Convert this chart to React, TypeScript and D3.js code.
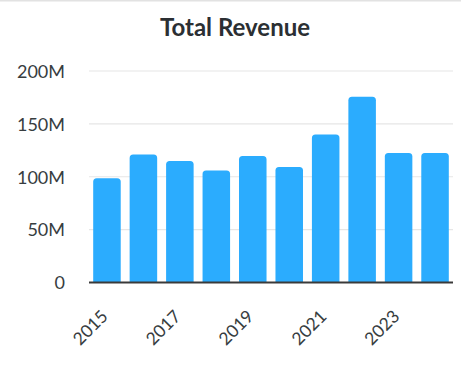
import React from "react";
import * as d3 from "d3";

const width = 461;
const height = 373;

const years = ["2015", "2016", "2017", "2018", "2019", "2020", "2021", "2022", "2023", "2024"];
const revenue = [98.5, 121, 115, 106, 119.6, 109.2, 140, 175.7, 122.5, 122.5];
const yTicks = [0, 50, 100, 150, 200];
const xTickLabels = ["2015", "2017", "2019", "2021", "2023"];

const left = 89;
const right = 453;
const top = 71;
const bottom = 282.5;

const font = "Lato, 'Open Sans', sans-serif";

// bar with rounded top corners only
const barPath = (x: number, y: number, w: number, h: number, r: number) =>
  `M${x},${y + h}V${y + r}Q${x},${y} ${x + r},${y}H${x + w - r}Q${x + w},${y} ${x + w},${y + r}V${y + h}Z`;

const App = () => {
  const xScale = d3
    .scaleBand<string>()
    .domain(years)
    .range([left, right])
    .paddingInner(0.245)
    .paddingOuter(0.115);
  const yScale = d3.scaleLinear().domain([0, 200]).range([bottom, top]);
  const fmt = (v: number) => (v === 0 ? "0" : `${v}M`);

  return (
    <svg
      width={width}
      height={height}
      style={{ position: "absolute", left: 0, top: 0, background: "#fff" }}
    >
      <rect x={0} y={0} width={width} height={1.5} fill="#e2e2e2" />
      <text
        x={235}
        y={35.5}
        textAnchor="middle"
        fontFamily={font}
        fontWeight="bold"
        fontSize={24}
        fill="#2b2f33"
      >
        Total Revenue
      </text>

      {yTicks.map((t) => (
        <g key={t}>
          {t > 0 && (
            <line
              x1={left}
              x2={right}
              y1={yScale(t)}
              y2={yScale(t)}
              stroke="#e6e6e6"
              strokeWidth={1.2}
            />
          )}
          <text
            x={65}
            y={yScale(t)}
            dy="0.38em"
            textAnchor="end"
            fontFamily={font}
            fontSize={18}
            fill="#373d3f"
          >
            {fmt(t)}
          </text>
        </g>
      ))}

      {years.map((yr, i) => {
        const x = xScale(yr) as number;
        const y = yScale(revenue[i]);
        return (
          <path
            key={yr}
            d={barPath(x, y, xScale.bandwidth(), bottom - y, 3.5)}
            fill="#2bacfe"
          />
        );
      })}

      <line x1={left} x2={right} y1={bottom} y2={bottom} stroke="#3a3a3a" strokeWidth={2} />

      {xTickLabels.map((yr) => {
        const cx = (xScale(yr) as number) + xScale.bandwidth() / 2 + 2;
        const cy = bottom + 35;
        return (
          <text
            key={yr}
            x={cx}
            y={cy}
            textAnchor="end"
            transform={`rotate(-45, ${cx}, ${cy})`}
            fontFamily={font}
            fontSize={17.5}
            fill="#373d3f"
          >
            {yr}
          </text>
        );
      })}
    </svg>
  );
};

export default App;
